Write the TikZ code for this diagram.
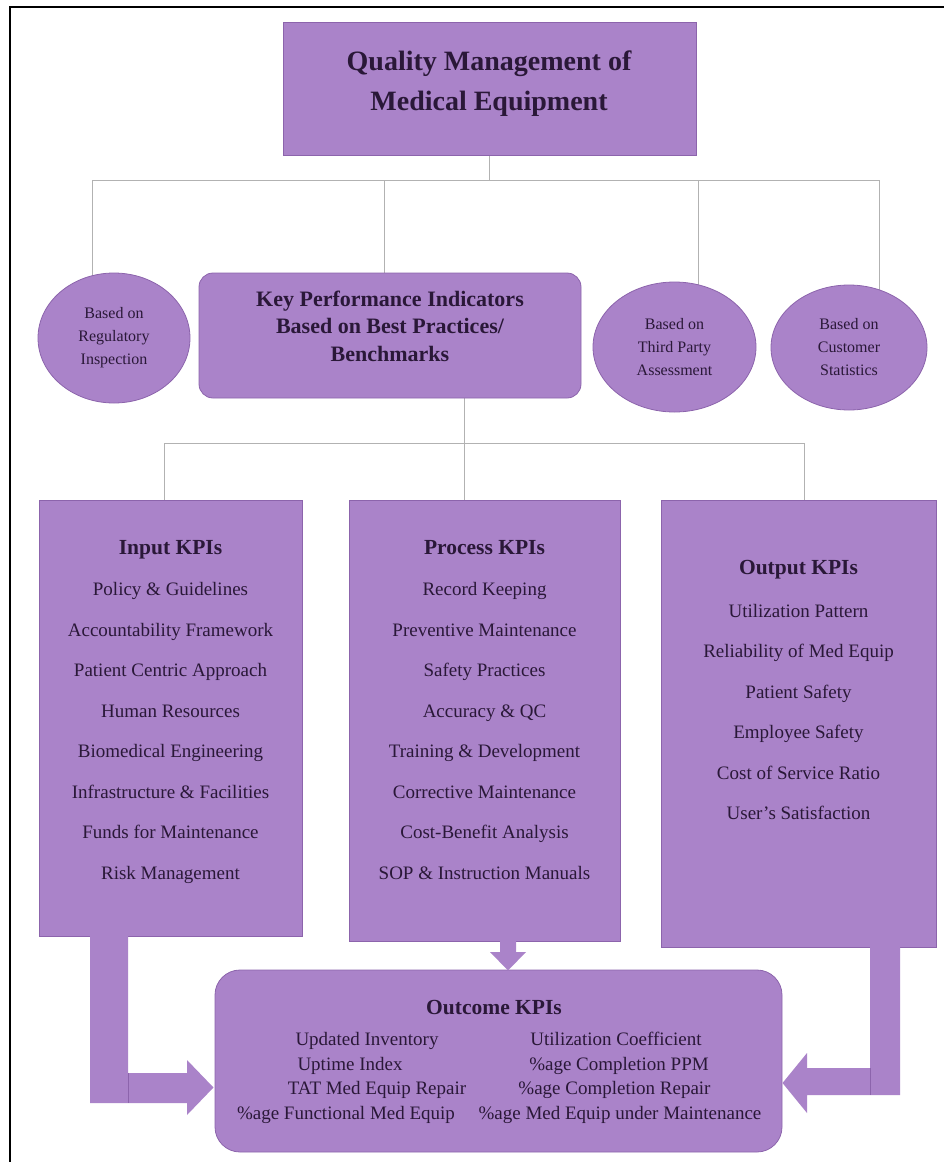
\documentclass[tikz,border=0pt]{standalone}
\usepackage{fontspec}
\setmainfont{Liberation Serif}
\usetikzlibrary{shapes.geometric,calc}
\pgfdeclarelayer{bg}
\pgfsetlayers{bg,main}
\definecolor{pfill}{RGB}{170,131,201}
\definecolor{pedge}{RGB}{140,100,172}
\definecolor{ptext}{RGB}{42,24,56}
\definecolor{wire}{RGB}{178,178,178}
\begin{document}
\begin{tikzpicture}[x=1pt,y=-1pt,
  box/.style={draw=pedge, line width=0.8pt, fill=pfill, inner sep=0pt},
  oval/.style={box, ellipse, align=center, text=ptext, font=\fontsize{16}{23}\selectfont},
  hdr/.style={text=ptext, font=\bfseries\fontsize{21.5}{26}\selectfont, inner sep=0pt, text height=0.7em, text depth=0.2em},
  item/.style={text=ptext, font=\fontsize{19}{23}\selectfont, inner sep=0pt, text height=0.7em, text depth=0.2em},
  wireline/.style={draw=wire, line width=1pt},
  blockarrow/.style={fill=pfill, draw=none},
  seam/.style={draw=pedge, line width=0.6pt}]
\useasboundingbox (0,0) rectangle (944,1162);
% frame
\draw[line width=2.6pt] (944,7) -- (10,7) -- (10,1162);

% top
\node[box, minimum width=413pt, minimum height=133pt] (title) at (489.5,88.5) {};
\node[text=ptext, font=\bfseries\fontsize{28}{40}\selectfont, align=center, inner sep=0pt] (titletext) at (489,84) {Quality Management of\\Medical Equipment};

% second row
\node[oval, minimum width=152pt, minimum height=130pt] (c1) at (114,338) {Based on\\Regulatory\\Inspection};
\node[box, rounded corners=14pt, minimum width=382pt, minimum height=125pt] (kpi) at (390,335.5) {};
\node[text=ptext, font=\bfseries\fontsize{22}{27.5}\selectfont, align=center, inner sep=0pt] (kpitext) at (390,326) {Key Performance Indicators\\Based on Best Practices/\\Benchmarks};
\node[oval, minimum width=163pt, minimum height=130pt] (c3) at (674.5,347) {Based on\\Third Party\\Assessment};
\node[oval, minimum width=156pt, minimum height=125pt] (c4) at (849,347.5) {Based on\\Customer\\Statistics};

% third row boxes
\node[box, minimum width=263pt, minimum height=436pt] (input) at (170.5,718) {};
\node[box, minimum width=271pt, minimum height=441pt] (process) at (484.5,720.5) {};
\node[box, minimum width=275pt, minimum height=447pt] (output) at (798.5,723.5) {};

\node[hdr] (inh) at (170.5,552) {Input KPIs};
\foreach \t [count=\i from 0] in {Policy \& Guidelines, Accountability Framework, Patient Centric Approach, Human Resources, Biomedical Engineering, Infrastructure \& Facilities, Funds for Maintenance, Risk Management}
  \node[item] (in\i) at (170.5,{593+40.5*\i}) {\t};

\node[hdr] (prh) at (484.5,552) {Process KPIs};
\foreach \t [count=\i from 0] in {Record Keeping, Preventive Maintenance, Safety Practices, Accuracy \& QC, Training \& Development, Corrective Maintenance, Cost-Benefit Analysis, SOP \& Instruction Manuals}
  \node[item] (pr\i) at (484.5,{593+40.5*\i}) {\t};

\node[hdr] (outh) at (798.5,572) {Output KPIs};
\foreach \t [count=\i from 0] in {Utilization Pattern, Reliability of Med Equip, Patient Safety, Employee Safety, Cost of Service Ratio, User's Satisfaction}
  \node[item] (out\i) at (798.5,{615+40.4*\i}) {\t};

% outcome
\node[box, rounded corners=25pt, minimum width=567pt, minimum height=182pt] (outcome) at (498.5,1061) {};
\node[hdr] (oh) at (494,1012) {Outcome KPIs};
\node[item] (o1) at (367,1043) {Updated Inventory};
\node[item] (o2) at (350,1067.5) {Uptime Index};
\node[item] (o3) at (377,1092) {TAT Med Equip Repair};
\node[item] (o4) at (346,1116.5) {\%age Functional Med Equip};
\node[item] (o5) at (616,1043) {Utilization Coefficient};
\node[item] (o6) at (619,1067.5) {\%age Completion PPM};
\node[item] (o7) at (614.5,1092) {\%age Completion Repair};
\node[item] (o8) at (620,1116.5) {\%age Med Equip under Maintenance};

% wires
\coordinate (bus1) at (title.south |- 0,180);
\coordinate (bL) at (92,180);
\coordinate (bR) at (879,180);
\coordinate (bK) at (384,180);
\coordinate (b3) at (698,180);
\coordinate (bus2) at (464,443);
\coordinate (dL) at (164,443);
\coordinate (dR) at (804,443);
\begin{pgfonlayer}{bg}
  \draw[wireline] (title.south) -- (bus1);
  \draw[wireline] (bL) -- (bR);
  \draw[wireline] (bL) -- (bL |- c1.center);
  \draw[wireline] (bK) -- (bK |- kpi.north);
  \draw[wireline] (b3) -- (b3 |- c3.center);
  \draw[wireline] (bR) -- (bR |- c4.center);
  \draw[wireline] (bus2 |- kpi.south) -- (bus2);
  \draw[wireline] (dL) -- (dR);
  \draw[wireline] (dL) -- (dL |- input.north);
  \draw[wireline] (bus2) -- (bus2 |- process.north);
  \draw[wireline] (dR) -- (dR |- output.north);
\end{pgfonlayer}

% block arrows
\fill[blockarrow] (90,936) -- (128,936) -- (128,1073) -- (187,1073) -- (187,1060) -- (213.5,1087.5) -- (187,1115) -- (187,1103) -- (90,1103) -- cycle;
\draw[seam] (128,1073) -- (128,1103);
\fill[blockarrow] (900,947) -- (870,947) -- (870,1068) -- (807,1068) -- (807,1053) -- (782.5,1083) -- (807,1113) -- (807,1095) -- (900,1095) -- cycle;
\draw[seam] (870,1068) -- (870,1095);
\fill[blockarrow] (500,940.5) -- (516,940.5) -- (516,952) -- (526,952) -- (508,970.5) -- (490,952) -- (500,952) -- cycle;
\end{tikzpicture}
\end{document}
